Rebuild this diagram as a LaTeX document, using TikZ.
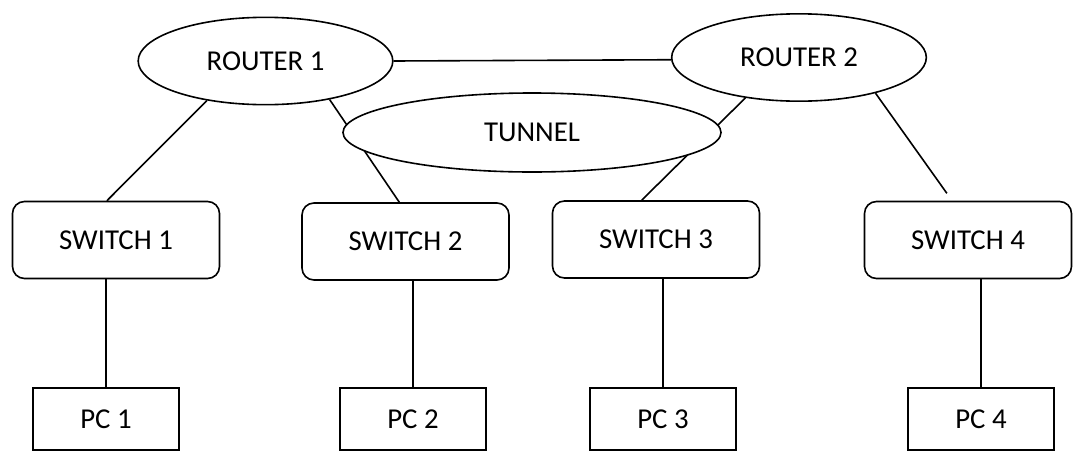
\documentclass[tikz,border=0pt]{standalone}
\usepackage{fontspec}
\setmainfont{Carlito}
\usetikzlibrary{shapes.geometric}
\tikzset{
  % --- nodes -----------------------------------------------------------
  base/.style      ={draw, line width=1.2pt, fill=white, inner sep=0pt,
                     font=\fontsize{21.6}{26}\selectfont, text=black},
  router/.style    ={base, ellipse, minimum width=191pt, minimum height=65.5pt},
  tunnelnode/.style={base, ellipse, minimum width=283.5pt, minimum height=59.25pt},
  switchbox/.style ={base, rectangle, rounded corners=9pt,
                     minimum width=155.25pt, minimum height=57.75pt},
  pcbox/.style     ={base, rectangle, minimum width=109.5pt, minimum height=46.5pt},
  % --- connectors ------------------------------------------------------
  link/.style      ={line width=1.2pt, draw=black},
}

\begin{document}
\begin{tikzpicture}[x=0.75pt, y=-0.75pt]
  \useasboundingbox (0,0) rectangle (1073,450);
  \clip (0,0) rectangle (1073,450);

  % ============================ routers ============================
  \node[router] (router1) at (265.5,61)  {ROUTER 1};
  \node[router] (router2) at (799,57.5)  {ROUTER 2};

  % ============================ switches ============================
  \node[switchbox] (sw1) at (116,240)   {SWITCH 1};
  \node[switchbox] (sw2) at (405.5,241.5) {SWITCH 2};
  \node[switchbox] (sw3) at (656,239.5) {SWITCH 3};
  \node[switchbox] (sw4) at (968,240)   {SWITCH 4};

  % ============================ pcs (cut off at the bottom) ============================
  \node[pcbox] (pc1) at (106,419) {PC 1};
  \node[pcbox] (pc2) at (413,419) {PC 2};
  \node[pcbox] (pc3) at (663,419) {PC 3};
  \node[pcbox] (pc4) at (981,419) {PC 4};

  % ============================ links ============================
  \draw[link] (router1.east) -- (router2.181);
  \draw[link] (router1.214) -- (sw1.103);
  \draw[link] (router1.329) -- (sw2.99);
  \draw[link] (router2.217) -- (sw3.110);
  \draw[link, shorten >=6.8pt] (router2.335) -- (sw4.112);

  % tunnel sits on top of the two links that cross it
  \node[tunnelnode] (tunnel) at (532,132.5) {TUNNEL};

  \foreach \i in {1,...,4}
    \draw[link] (pc\i.north) -- (pc\i.north |- sw\i.south);

\end{tikzpicture}
\end{document}
